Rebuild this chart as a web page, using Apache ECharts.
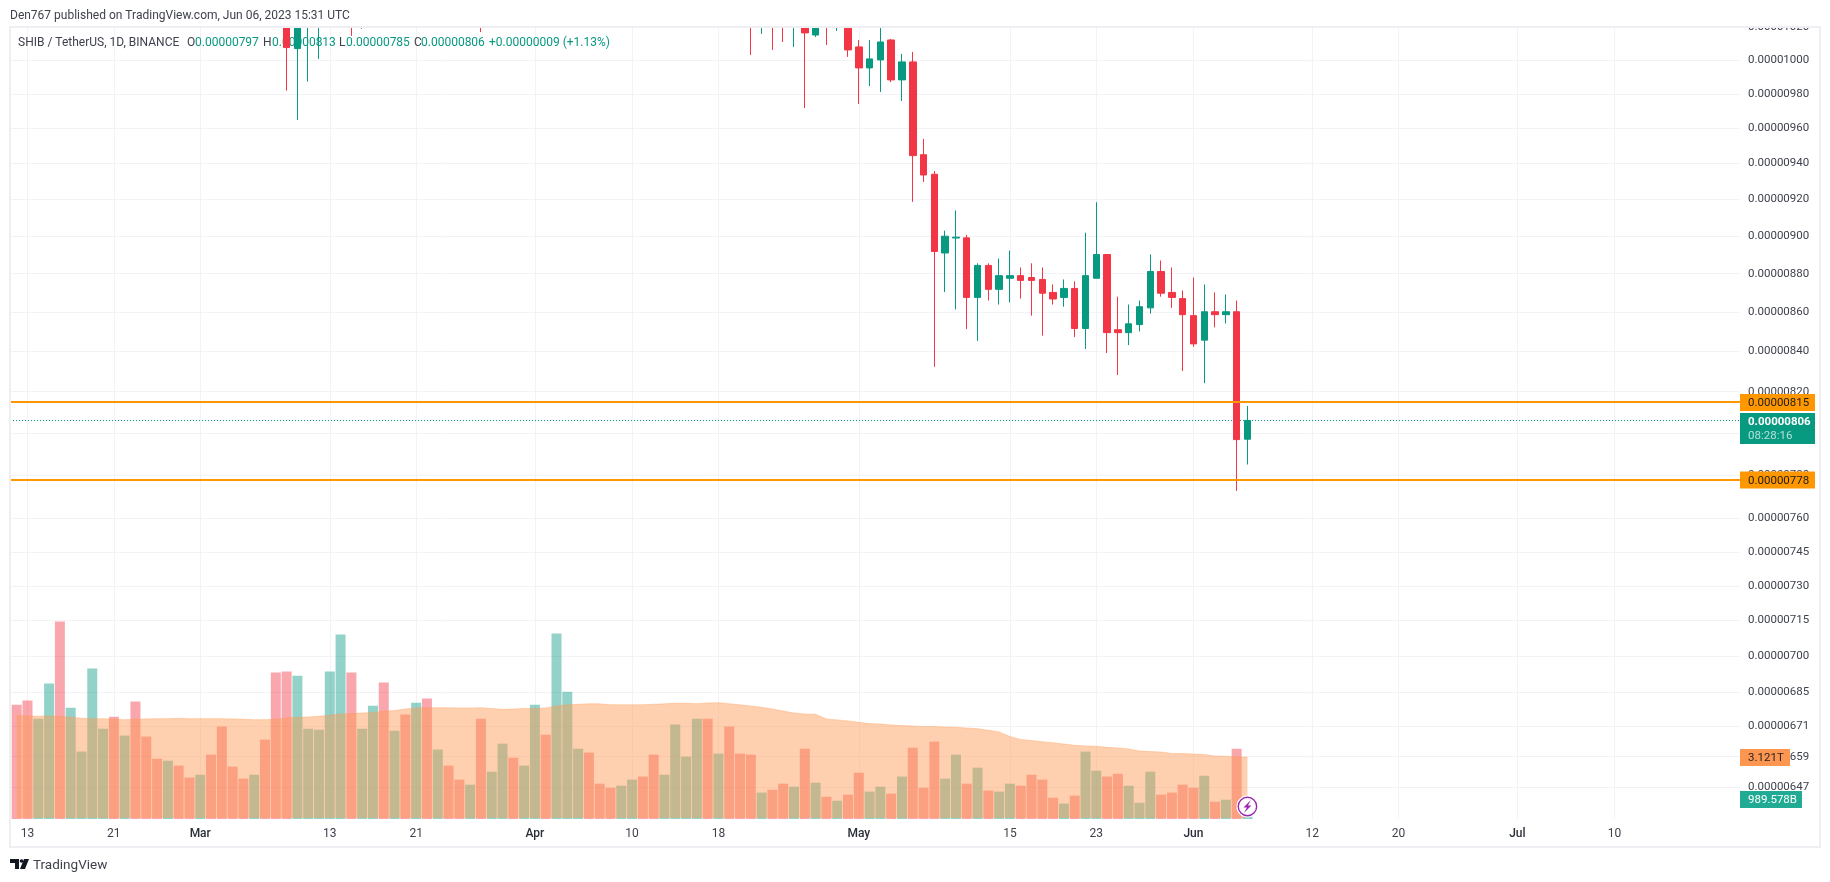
<!DOCTYPE html>
<html>
<head>
<meta charset="utf-8">
<title>SHIB / TetherUS</title>
<style>html,body{margin:0;padding:0;background:#fff;overflow:hidden}#c{width:1830px;height:882px}</style>
<script src="https://cdn.jsdelivr.net/npm/echarts@6/dist/echarts.min.js"></script>
</head>
<body>
<div id="c"></div>
<script>
// ---- data (prices in units of 0.00000001, volume in trillions) ----
const firstDay = Date.UTC(2023, 1, 12);
const open = [null,null,null,null,null,null,null,null,null,null,null,null,null,null,null,null,null,null,null,null,null,null,null,null,null,
 1090,1007,1058,1075,null,null,1130,1095,null,null,null,null,null,null,null,null,null,null,1125,null,null,null,null,null,null,null,null,null,null,null,null,null,null,null,null,null,null,null,null,null,null,null,null,
 1070,1045,1060,1050,1040,1055,1015.2,1030,1024,1030,1008,995.4,1000.2,1012.2,988.3,999,945,934,891,899,899.1,867.6,884.4,871.8,877.6,879,878,877,870.2,867.6,872.3,851.6,877.6,890.2,851,849.5,853.6,862.2,881.2,870.2,867,858.2,845.7,860.2,858.7,860.2,797];
const close = [null,null,null,null,null,null,null,null,null,null,null,null,null,null,null,null,null,null,null,null,null,null,null,null,null,
 1007.6,1060,1075,1110,null,null,1095,1110,null,null,null,null,null,null,null,null,null,null,1085,null,null,null,null,null,null,null,null,null,null,null,null,null,null,null,null,null,null,null,null,null,null,null,null,
 1045,1060,1050,1040,1055,1016.5,1030,1024,1030,1006.2,995.4,1000.8,1011,988.3,999,944.5,933.6,891.8,900,899.5,867.6,884.4,871.8,879,879,876.5,876.5,869.8,866.8,872.3,851.6,879,890.2,849.5,849.5,854,862.8,881.2,869.8,867.6,858.7,843.8,860.2,858.7,860.2,796.8,806];
const low = [null,null,null,null,null,null,null,null,null,null,null,null,null,null,null,null,null,null,null,null,null,null,null,null,null,
 982,964.9,987.3,1000.8,null,null,1014.7,1019,null,null,null,null,null,null,null,null,null,null,1017,null,null,null,null,null,null,null,null,null,null,null,null,null,null,null,null,null,null,null,null,null,null,null,null,
 1003.2,1015.9,1006.2,1011,1008,971.8,1014,1009.2,1017.7,1002,974.2,984.7,981.2,987,975.9,918.7,929.7,832.3,870.4,861.4,851.3,845.3,866,863.9,865,867,858.2,848,863.9,862.8,847.2,841.2,877.6,839.2,828.2,843.2,850.1,859.2,868,862.2,830.2,842.3,824.2,852.2,854.2,772.7,785];
const high = [null,null,null,null,null,null,null,null,null,null,null,null,null,null,null,null,null,null,null,null,null,null,null,null,null,
 1110,1090,1085,1125,null,null,1150,1125,null,null,null,null,null,null,null,null,null,null,1140,null,null,null,null,null,null,null,null,null,null,null,null,null,null,null,null,null,null,null,null,null,null,null,null,
 1080,1070,1065,1060,1060,1085,1045,1035,1036,1036,1012.2,1012.2,1021,1012.8,1003.8,1005,954,935.8,903,914,900.7,885.5,885.5,888,892.3,883.3,885.5,883.3,874.4,877,876,901.9,918.5,890.2,868,863.9,866,890.2,887,883.3,871.2,878,874.4,870.2,869.1,866,813];
const volume = [5.63,5.83,4.94,6.67,9.72,5.48,3.32,7.41,4.45,5.04,4.11,5.78,4.06,2.97,2.87,2.63,2.04,2.18,3.17,4.55,2.58,1.99,2.18,3.91,7.21,7.26,7.06,4.45,4.40,7.26,9.08,7.21,4.45,5.58,6.72,4.35,5.14,5.73,5.93,3.42,2.63,1.94,1.69,4.94,2.33,3.71,3.02,2.63,5.63,4.15,9.13,6.27,3.46,3.27,1.74,1.54,1.64,1.94,2.09,3.17,2.18,4.65,3.07,4.94,4.94,3.22,4.55,3.22,3.17,1.30,1.44,1.74,1.59,3.46,1.79,1.10,0.90,1.20,2.28,1.35,1.59,1.25,2.09,3.51,1.54,3.81,1.99,3.17,1.74,2.53,1.40,1.35,1.74,1.64,2.18,1.94,1.05,0.76,1.15,3.32,2.38,2.09,2.23,1.64,0.80,2.33,1.20,1.30,1.69,1.54,2.13,0.85,0.95,3.46,0.99];
const volumeDir = ('ddUUdUUUUd' + 'UdddUddUdd' + 'ddUdddUUUU' + 'UdUUdUdUdU' + 'ddUdUUdUUd' + 'UUUdddUUdd' + 'UUUUdUdddU' + 'ddUdUdUddU' + 'UdUdddUUdU' + 'dUUddddUdU' + 'UddUUUdddd' + 'UdUdU').split('');
const volumeMA = [5.11,5.07,5.06,5.07,5.06,5.01,4.96,4.94,4.94,4.91,4.89,4.91,4.93,4.94,4.94,4.96,4.94,4.94,4.94,4.94,4.93,4.91,4.89,4.89,4.91,4.98,5.01,5.02,5.06,5.11,5.17,5.19,5.22,5.25,5.30,5.34,5.42,5.47,5.48,5.48,5.48,5.47,5.47,5.48,5.44,5.40,5.42,5.44,5.44,5.47,5.57,5.62,5.65,5.67,5.67,5.63,5.62,5.62,5.63,5.65,5.67,5.70,5.70,5.68,5.71,5.73,5.68,5.62,5.57,5.50,5.42,5.32,5.22,5.17,5.16,4.93,4.88,4.83,4.76,4.70,4.68,4.63,4.60,4.58,4.56,4.55,4.53,4.52,4.48,4.45,4.37,4.29,4.06,3.92,3.86,3.81,3.76,3.69,3.63,3.60,3.58,3.53,3.50,3.45,3.35,3.32,3.30,3.23,3.22,3.20,3.17,3.10,3.09,3.05,3.05];
const priceTicks = [1020,1000,980,960,940,920,900,880,860,840,820,800,780,760,745,730,715,700,685,671,659,647];
const timeTickDays = [1,9,17,29,37,48,57,65,78,92,100,109,120,128,139,148];
const timeTickLabels = ['13','21','Mar','13','21','Apr','10','18','May','15','23','Jun','12','20','Jul','10'];
const monthLabels = ['Mar','Apr','May','Jun','Jul'];
const levels = [815, 778];
const lastClose = 806;
const lastVolumeMA = '3.121T';
const lastVolume = '989.578B';

const DAY = 86400000;
const dayTime = i => firstDay + i * DAY;
const priceText = v => (v / 1e8).toFixed(8);
const UP = '#089981', DOWN = '#f23645';
const GRID = '#f2f3f6';
const TEXT = '#3f424d';
const FONT = 'Roboto, "Liberation Sans", sans-serif';

const candleRows = open.map((o, i) => o === null ? null : [dayTime(i), o, close[i], low[i], high[i]]).filter(Boolean);
const volumeRows = volume.map((v, i) => ({
  value: [dayTime(i), v],
  itemStyle: { color: volumeDir[i] === 'U' ? 'rgba(8,153,129,0.44)' : 'rgba(242,54,69,0.44)' }
}));
const maRows = volumeMA.map((v, i) => [dayTime(i), v]);

const xMin = dayTime(-6.7 / 10.796);
const xMax = dayTime((1740 - 16.7) / 10.796);
const timeTicks = timeTickDays.map(dayTime);

const chart = echarts.init(document.getElementById('c'), null, { renderer: 'canvas' });
chart.setOption({
  animation: false,
  backgroundColor: '#ffffff',
  textStyle: { fontFamily: FONT },
  grid: [
    { left: 10, right: 90, top: 27, bottom: 62 },
    { left: 10, right: 90, top: 27, bottom: 63 }
  ],
  xAxis: [
    { type: 'value', scale: true, gridIndex: 0, min: xMin, max: xMax, show: false, splitLine: { show: false } },
    { type: 'value', scale: true, gridIndex: 1, min: xMin, max: xMax,
      axisLine: { show: false }, axisTick: { show: false, customValues: timeTicks },
      splitLine: { show: true, lineStyle: { color: GRID, width: 1 } },
      axisLabel: {
        customValues: timeTicks, margin: 9, hideOverlap: false, showMinLabel: true, showMaxLabel: true,
        fontFamily: FONT, fontSize: 12, color: TEXT,
        formatter: (val) => {
          const k = timeTicks.indexOf(val);
          const s = timeTickLabels[k];
          return monthLabels.includes(s) ? '{m|' + s + '}' : s;
        },
        rich: { m: { fontFamily: FONT, fontSize: 12, color: '#2a2e39', fontWeight: 500 } }
      } }
  ],
  yAxis: [
    { type: 'log', gridIndex: 0, position: 'right', min: 634.5, max: 1020.1, logBase: 10,
      axisLine: { show: false }, axisTick: { show: false, customValues: priceTicks },
      minorTick: { show: false }, minorSplitLine: { show: false },
      splitLine: { show: true, lineStyle: { color: GRID, width: 1 } },
      axisLabel: { customValues: priceTicks, margin: 8, padding: [2, 0, 0, 0], fontFamily: FONT, fontSize: 11.5, color: TEXT, formatter: v => priceText(v) } },
    { type: 'value', gridIndex: 1, min: 0, max: 39, show: false, splitLine: { show: false } }
  ],
  series: [
    { type: 'line', name: 'last', xAxisIndex: 0, yAxisIndex: 0, data: [], z: 1,
      markLine: { z: 1, silent: true, symbol: 'none', animation: false, label: { show: false },
        lineStyle: { color: UP, width: 1, type: [1, 2] }, data: [{ yAxis: lastClose }] } },
    { type: 'bar', name: 'Volume', xAxisIndex: 1, yAxisIndex: 1, data: volumeRows, barWidth: 10, z: 2, large: false },
    { type: 'line', name: 'Volume MA', xAxisIndex: 1, yAxisIndex: 1, data: maRows, z: 3, showSymbol: false, symbol: 'none', smooth: false,
      lineStyle: { color: 'rgba(255,152,80,0.35)', width: 1 },
      areaStyle: { color: 'rgba(255,152,80,0.46)', opacity: 1, origin: 0.05 } },
    { type: 'candlestick', name: 'SHIB / TetherUS', xAxisIndex: 0, yAxisIndex: 0, data: candleRows, barWidth: 7, z: 4, clip: true,
      itemStyle: { color: UP, color0: DOWN, borderColor: UP, borderColor0: DOWN, borderWidth: 1 },
      markLine: { z: 6, silent: true, symbol: 'none', animation: false, label: { show: false },
        lineStyle: { color: '#ff9800', width: 2, type: 'solid' }, data: levels.map(v => ({ yAxis: v })) } }
  ]
});

// ---- overlays: price tags, header, logo, frame ----
const px = (v) => chart.convertToPixel({ yAxisIndex: 0 }, v);
const volPx = (v) => chart.convertToPixel({ yAxisIndex: 1 }, v);
const xPx = (t) => chart.convertToPixel({ xAxisIndex: 1 }, t);
const tag = (y, w, h, fill, str, color, weight) => [
  { type: 'rect', z: 200, silent: true, shape: { x: 1740, y: y - h / 2 + 0.5, width: w, height: h }, style: { fill } },
  { type: 'text', z: 201, silent: true, x: 1748, y: y + 1.5, style: { text: str, fill: color, font: (weight || 'normal') + ' 11.5px ' + FONT, textVerticalAlign: 'middle' } }
];
const headText = (x, str, fill) => ({ type: 'text', z: 0, silent: true, x, y: 43, style: { text: str, fill, font: '12px ' + FONT, textVerticalAlign: 'middle' } });
const lastY = px(lastClose);
const iconX = xPx(dayTime(114));
const els = [
  { type: 'rect', z: 150, silent: true, shape: { x: 0, y: 0, width: 1830, height: 27 }, style: { fill: '#fff' } },
  { type: 'rect', z: 150, silent: true, shape: { x: 0, y: 847, width: 1830, height: 35 }, style: { fill: '#fff' } },
  { type: 'rect', z: 160, silent: true, shape: { x: 10, y: 27, width: 1810, height: 820 }, style: { fill: 'none', stroke: '#eeeef3', lineWidth: 2 } },
  { type: 'text', z: 170, silent: true, x: 10, y: 16, style: { text: 'Den767 published on TradingView.com, Jun 06, 2023 15:31 UTC', fill: TEXT, font: '12px ' + FONT, textVerticalAlign: 'middle' } },
  headText(18, 'SHIB / TetherUS, 1D, BINANCE', TEXT),
  headText(187, 'O', TEXT), headText(195, priceText(797), UP),
  headText(263, 'H', TEXT), headText(272, priceText(813), UP),
  headText(339, 'L', TEXT), headText(346, priceText(785), UP),
  headText(414, 'C', TEXT), headText(421, priceText(806), UP),
  headText(489, '+0.00000009 (+1.13%)', UP),
  // TradingView wordmark
  { type: 'polygon', z: 170, silent: true, shape: { points: [[10, 859], [19, 859], [19, 869], [15, 869], [15, 863], [10, 863]] }, style: { fill: '#131722' } },
  { type: 'polygon', z: 170, silent: true, shape: { points: [[24, 859], [29, 859], [25, 869], [20, 869]] }, style: { fill: '#131722' } },
  { type: 'circle', z: 170, silent: true, shape: { cx: 21.5, cy: 861, r: 1.8 }, style: { fill: '#131722' } },
  { type: 'text', z: 170, silent: true, x: 33, y: 865.5, style: { text: 'TradingView', fill: TEXT, font: '13.5px ' + FONT, textVerticalAlign: 'middle' } },
  // last-bar marker
  { type: 'circle', z: 120, silent: true, shape: { cx: iconX, cy: 806.5, r: 10 }, style: { fill: '#fff', stroke: '#fff', lineWidth: 2 } },
  { type: 'circle', z: 121, silent: true, shape: { cx: iconX, cy: 806.5, r: 9.2 }, style: { fill: '#fff', stroke: '#9c27b0', lineWidth: 1.4 } },
  { type: 'polygon', z: 122, silent: true, shape: { points: [[iconX + 3.5, 800], [iconX - 4, 807.5], [iconX - 0.5, 807.5], [iconX - 3.5, 813], [iconX + 4, 805.5], [iconX + 0.5, 805.5]] }, style: { fill: '#9c27b0' } }
];
levels.forEach(v => els.push(...tag(px(v), 75, 17, '#ff9800', priceText(v), '#1c1c1c')));
els.push(
  { type: 'rect', z: 200, silent: true, shape: { x: 1740, y: lastY - 7.5, width: 75, height: 31 }, style: { fill: UP } },
  { type: 'text', z: 201, silent: true, x: 1748, y: lastY + 1.5, style: { text: priceText(lastClose), fill: '#fff', font: 'bold 11.5px ' + FONT, textVerticalAlign: 'middle' } },
  { type: 'text', z: 201, silent: true, x: 1748, y: lastY + 16, style: { text: '08:28:16', fill: '#b5e0d9', font: '11.5px ' + FONT, textVerticalAlign: 'middle' } }
);
els.push(...tag(volPx(volumeMA[volumeMA.length - 1]), 50, 17, '#fd9650', lastVolumeMA, '#2a2320'));
els.push(...tag(volPx(volume[volume.length - 1]), 62, 17, '#22ab94', lastVolume, '#ffffff'));
chart.setOption({ graphic: { elements: els } });
</script>
</body>
</html>
